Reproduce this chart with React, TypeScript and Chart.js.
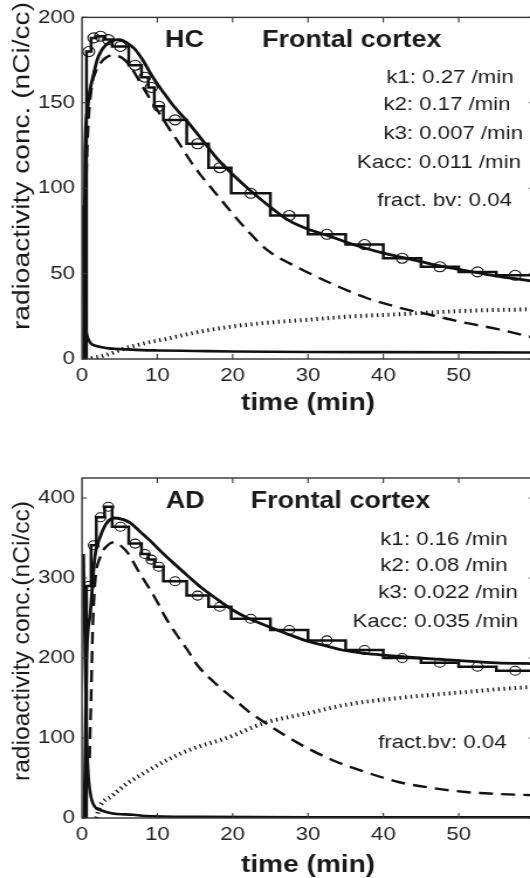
import React, { useEffect, useRef } from 'react';
import { Chart, registerables } from 'chart.js';
Chart.register(...registerables);

const FONT = '"Liberation Sans", Arial, Helvetica, sans-serif';
const SX = 1.17; // horizontal stretch of the original figure
const CW = 470;
const CH = 439;
const TICK = 5;

// ---- shared axes ----
const xTicks = [0, 10, 20, 30, 40, 50];
const xMarks = [10, 20, 30, 40, 50, 60];
const hcYTicks = [0, 50, 100, 150, 200];
const adYTicks = [0, 100, 200, 300, 400];

// ---- HC panel data ----
const hcFrameStart = [0, 0.6, 1.2, 1.9, 3.0, 4.0, 6.2, 7.9, 8.8, 9.6, 10.8, 13.9, 16.8, 19.8, 25, 30, 35, 40, 45, 50, 55];
const hcFrameValue = [0, 180, 188, 189, 187, 183, 172, 165, 159, 148, 140, 126, 112, 97, 84, 73, 67, 59, 54, 51, 49];
const hcFitT = [0.25, 0.4, 0.7, 1.0, 1.5, 2.0, 2.5, 3.0, 4.0, 5.0, 6.0, 7.0, 8.0, 9.0, 10, 11, 12, 14, 16, 18, 20, 22.5, 25, 27.5, 30, 32.5, 35, 37.5, 40, 42.5, 45, 47.5, 50, 52.5, 55, 57.5, 60];
const hcFitV = [0, 120, 145, 156, 166, 175, 180, 183, 186.5, 187, 185, 181.5, 175.5, 168, 161, 155, 149, 139, 128, 117, 108, 98, 89, 81, 76, 72.5, 68.5, 65, 62, 59.5, 57, 54.5, 52.5, 50.5, 48.5, 47, 45.5];
const hcFreeT = [0.4, 0.8, 1.3, 1.8, 2.4, 3.2, 4.1, 5.0, 5.7, 6.7, 7.7, 9, 10.4, 11.7, 13, 14.3, 15.7, 17, 18.5, 20, 22, 24.7, 28.7, 33.2, 37.6, 42, 46.5, 50, 55.2, 60];
const hcFreeV = [85, 135, 160, 168, 173, 176.5, 178, 177, 175, 169.5, 162, 152.5, 143, 134, 125.6, 116.5, 108, 101, 93, 85, 75, 63.4, 53.5, 44, 36, 30.2, 25.6, 22, 17.5, 12.5];
const hcBoundT = [1.2, 2.5, 4, 5.5, 8.4, 11, 14.5, 19.2, 24, 30, 36, 42, 46.5, 53, 58.5, 60];
const hcBoundV = [0.5, 1.5, 3.5, 6, 9.3, 11.6, 15, 18.6, 21, 23, 25, 26.2, 27.3, 28.5, 29, 29.2];
const hcPlasmaT = [0.1, 0.2, 0.3, 0.45, 0.6, 0.8, 1.2, 2.0, 2.5, 3.5, 5.2, 8, 10, 15, 20, 30, 40, 60];
const hcPlasmaV = [90, 60, 35, 20, 15, 12, 9, 7.5, 7, 6.2, 5.8, 5.2, 5, 4.7, 4.4, 4.1, 4, 3.8];
const hcParams = ['k1: 0.27 /min', 'k2: 0.17 /min', 'k3: 0.007 /min', 'Kacc: 0.011 /min', 'fract. bv: 0.04'];

// ---- AD panel data ----
const adFrameStart = [0, 0.6, 1.2, 1.9, 3.0, 4.0, 6.2, 7.9, 8.8, 9.6, 10.8, 13.9, 16.8, 19.8, 25, 30, 35, 40, 45, 50, 55];
const adFrameValue = [0, 290, 341, 376, 389, 364, 343, 330, 323, 314, 296, 278, 264, 249, 235, 222, 210, 200, 194, 189, 184];
const adFitT = [0.3, 0.45, 0.6, 1.1, 1.7, 2.4, 3.3, 4.4, 5.5, 6.4, 7.7, 9, 10.5, 12.1, 14, 15.7, 18, 20, 22, 24.3, 27, 29.6, 32, 34.5, 37, 39.6, 42, 44.6, 47, 49.8, 55, 60];
const adFitV = [0, 100, 197, 256, 326, 351, 369, 375, 373, 369, 358, 347, 333, 319, 303, 289, 273, 260, 250, 241, 231, 222, 216, 210, 206.5, 204, 202, 200, 198.5, 197, 194, 193];
const adFreeT = [1.0, 1.2, 1.4, 1.7, 2.4, 3.2, 4.4, 5.2, 6.1, 7.4, 8.8, 10, 11, 12.5, 14, 15.4, 17.5, 20, 22, 24.3, 28.7, 33.2, 37.6, 42, 46.5, 50.9, 55.2, 60];
const adFreeV = [75, 150, 230, 291, 326, 339, 345, 340, 331, 310, 289, 270, 252, 230, 210, 190, 170, 150, 134, 119, 93.6, 72.5, 57.5, 45, 37.5, 32.5, 30, 28.5];
const adBoundT = [1.9, 2.4, 3.9, 6.1, 8.4, 11, 14.5, 19.2, 24.3, 30, 35.3, 42, 46.5, 50.9, 55.2, 60];
const adBoundV = [0, 15, 27, 44, 57, 71, 86, 100, 119, 131, 142, 150, 154, 157.5, 161, 164];
const adPlasmaT = [0.2, 0.4, 0.6, 0.8, 1.1, 1.7, 2.4, 3.9, 6.8, 8.4, 15.7, 30, 60];
const adPlasmaV = [330, 200, 110, 60, 31, 14, 10, 6, 4, 2.5, 1.5, 1, 0.8];
const adParams = ['k1: 0.16 /min', 'k2: 0.08 /min', 'k3: 0.022 /min', 'Kacc: 0.035 /min', 'fract.bv: 0.04'];

// ---- layout (positions in data coordinates / pixels) ----
const hcLayout = {
  group: 'HC', region: 'Frontal cortex', yTitle: 'radioactivity conc. (nCi/cc)',
  yMax: 200, yTicks: hcYTicks, padTop: 15, xAxisH: 80, circleR: 5,
  groupAt: [13.6, 182.6], regionAt: [23.9, 182.6],
  paramAt: [[40.4, 161.6], [40.0, 145.9], [40.0, 129], [36.5, 111.6], [39.2, 89.5]],
  titleY: 166, titleLen: 328, xTitleOff: 44,
};
const adLayout = {
  group: 'AD', region: 'Frontal cortex', yTitle: 'radioactivity conc.(nCi/cc)',
  yMax: 425, yTicks: adYTicks, padTop: 39, xAxisH: 60, circleR: 4.5,
  groupAt: [13.7, 387.5], regionAt: [22.4, 387.5],
  paramAt: [[39.6, 341], [39.6, 309], [39.3, 275], [35.9, 239], [39.3, 87.5]],
  titleY: 202, titleLen: 280, xTitleOff: 47,
};

const pts = (t: number[], v: number[]) => t.map((x, i) => ({ x, y: v[i] }));
const steps = (s: number[], v: number[]) => [...pts(s, v), { x: 60, y: v[v.length - 1] }];
const mids = (s: number[], v: number[]) =>
  s.map((x, i) => ({ x: (x + (i + 1 < s.length ? s[i + 1] : 60)) / 2, y: v[i] })).filter((p) => p.y > 0);

function Panel(props: any) {
  const ref = useRef<HTMLCanvasElement>(null);
  const { L, d, top } = props;
  useEffect(() => {
    const canvas = ref.current!;
    const decor = {
      id: 'decor',
      afterDatasetsDraw(chart: any) {
        const { ctx, chartArea: a, scales } = chart;
        const xs = scales.x, ys = scales.y;
        ctx.save();
        ctx.strokeStyle = '#333';
        ctx.lineWidth = 1.4;
        ctx.strokeRect(a.left, a.top, a.right - a.left, a.bottom - a.top);
        ctx.lineWidth = 1.1;
        ctx.beginPath();
        for (const v of xMarks) {
          const px = xs.getPixelForValue(v);
          ctx.moveTo(px, a.bottom); ctx.lineTo(px, a.bottom - TICK);
          ctx.moveTo(px, a.top); ctx.lineTo(px, a.top + TICK);
        }
        for (const v of L.yTicks) {
          const py = ys.getPixelForValue(v);
          ctx.moveTo(a.left, py); ctx.lineTo(a.left + TICK / SX, py);
          ctx.moveTo(a.right, py); ctx.lineTo(a.right - TICK / SX, py);
        }
        ctx.stroke();
        ctx.fillStyle = '#1a1a1a';
        ctx.textBaseline = 'alphabetic';
        ctx.font = `bold 23px ${FONT}`;
        ctx.textAlign = 'center';
        ctx.fillText(L.group, xs.getPixelForValue(L.groupAt[0]), ys.getPixelForValue(L.groupAt[1]));
        ctx.textAlign = 'left';
        ctx.fillText(L.region, xs.getPixelForValue(L.regionAt[0]), ys.getPixelForValue(L.regionAt[1]));
        ctx.font = `19px ${FONT}`;
        d.params.forEach((s: string, i: number) => {
          ctx.fillText(s, xs.getPixelForValue(L.paramAt[i][0]), ys.getPixelForValue(L.paramAt[i][1]));
        });
        // x title
        ctx.font = `bold 24px ${FONT}`;
        ctx.textAlign = 'center';
        ctx.textBaseline = 'middle';
        ctx.fillText('time (min)', (a.left + a.right) / 2, a.bottom + L.xTitleOff);
        // y title
        ctx.font = `20px ${FONT}`;
        const w = ctx.measureText(L.yTitle).width;
        ctx.translate(23 / SX, L.titleY);
        ctx.rotate(-Math.PI / 2);
        ctx.scale(L.titleLen / w, 1);
        ctx.fillText(L.yTitle, 0, 0);
        ctx.restore();
      },
    };
    const lineDs = (data: any[], extra: any) => ({
      data, showLine: true, pointRadius: 0, borderColor: '#111', borderWidth: 2.6,
      fill: false, cubicInterpolationMode: 'monotone', ...extra,
    });
    const chart = new Chart(canvas, {
      type: 'line',
      data: {
        datasets: [
          lineDs(pts(d.plasmaT, d.plasmaV), { borderWidth: 2.6 }),
          lineDs(pts(d.boundT, d.boundV), { borderWidth: 4, borderDash: [1.3, 3.4], borderColor: '#111' }),
          lineDs(pts(d.freeT, d.freeV), { borderWidth: 2.4, borderDash: [12, 7] }),
          lineDs(steps(d.frameStart, d.frameValue), { stepped: 'before', borderWidth: 2.5, cubicInterpolationMode: 'default' }),
          lineDs(pts(d.fitT, d.fitV), { borderWidth: 2.8 }),
          {
            data: mids(d.frameStart, d.frameValue), showLine: false, pointRadius: L.circleR,
            pointBorderWidth: 1.1, pointBorderColor: '#111', pointBackgroundColor: 'rgba(0,0,0,0)',
            pointStyle: 'circle',
          },
        ],
      } as any,
      options: {
        animation: false, responsive: false, maintainAspectRatio: false, devicePixelRatio: 1,
        layout: { padding: { left: 0, right: CW - 534 / SX, top: L.padTop, bottom: 0 } },
        plugins: { legend: { display: false }, tooltip: { enabled: false } },
        scales: {
          x: {
            type: 'linear', min: 0, max: 60,
            grid: { display: false, drawTicks: false }, border: { display: false },
            afterBuildTicks: (s: any) => { s.ticks = xTicks.map((value) => ({ value })); },
            afterFit: (s: any) => { s.height = L.xAxisH; },
            ticks: { font: { family: FONT, size: 19 }, color: '#222', padding: 5, maxRotation: 0, autoSkip: false },
          },
          y: {
            type: 'linear', min: 0, max: L.yMax,
            grid: { display: false, drawTicks: false }, border: { display: false },
            afterBuildTicks: (s: any) => { s.ticks = L.yTicks.map((value: number) => ({ value })); },
            afterFit: (s: any) => { s.width = 82 / SX; },
            ticks: { font: { family: FONT, size: 19 }, color: '#222', padding: 6, autoSkip: false },
          },
        },
      } as any,
      plugins: [decor],
    });
    return () => chart.destroy();
  }, []);
  return (
    <canvas
      ref={ref}
      width={CW}
      height={CH}
      style={{ position: 'absolute', left: 0, top, transform: `scaleX(${SX})`, transformOrigin: '0 0' }}
    />
  );
}

const hcData = {
  frameStart: hcFrameStart, frameValue: hcFrameValue, fitT: hcFitT, fitV: hcFitV,
  freeT: hcFreeT, freeV: hcFreeV, boundT: hcBoundT, boundV: hcBoundV,
  plasmaT: hcPlasmaT, plasmaV: hcPlasmaV, params: hcParams,
};
const adData = {
  frameStart: adFrameStart, frameValue: adFrameValue, fitT: adFitT, fitV: adFitV,
  freeT: adFreeT, freeV: adFreeV, boundT: adBoundT, boundV: adBoundV,
  plasmaT: adPlasmaT, plasmaV: adPlasmaV, params: adParams,
};

export default function App() {
  return (
    <div style={{ position: 'absolute', left: 0, top: 0, width: 530, height: 878, overflow: 'hidden', background: '#fff' }}>
      <Panel L={hcLayout} d={hcData} top={0} />
      <Panel L={adLayout} d={adData} top={439} />
    </div>
  );
}
